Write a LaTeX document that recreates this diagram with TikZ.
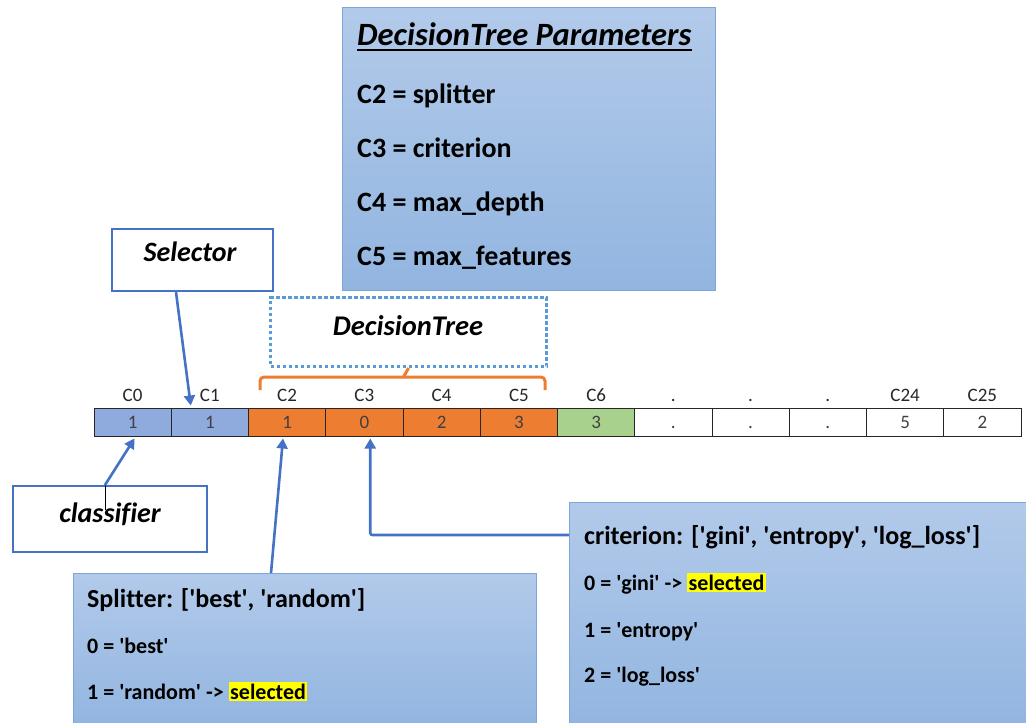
\documentclass[tikz,border=0pt]{standalone}
\usepackage{fontspec}
\setmainfont{Carlito}[Ligatures={TeXOff,NoCommon}]
\usetikzlibrary{arrows.meta,calc}

\definecolor{accblue}{HTML}{4472C4}
\definecolor{dotblue}{HTML}{5B9BD5}
\definecolor{panelline}{HTML}{7DA5DA}
\definecolor{paneltop}{HTML}{B2CAEA}
\definecolor{panelbot}{HTML}{92B5E0}
\definecolor{cellblue}{HTML}{8FAADC}
\definecolor{cellorange}{HTML}{ED7D31}
\definecolor{cellgreen}{HTML}{A9D18E}
\definecolor{cellwhite}{HTML}{FFFFFF}
\definecolor{celltext}{HTML}{404040}
\definecolor{hiyellow}{HTML}{FFFF00}

\newcommand\fsz[1]{\fontsize{#1}{#1}\selectfont}
\newcommand\hilite[1]{{\setlength{\fboxsep}{1.5pt}\colorbox{hiyellow}{#1}}}

\begin{document}
\begin{tikzpicture}[x=1pt,y=-1pt,
  panel/.style={draw=panelline, line width=1.2pt, top color=paneltop, bottom color=panelbot,
                shading angle=0, anchor=north west, inner sep=0pt},
  labelbox/.style={draw=accblue, line width=2.2pt, fill=white, anchor=north west, inner sep=0pt},
  cell/.style={draw=black!85, line width=1pt, minimum width=77.25pt, minimum height=28pt,
               inner sep=0pt, text height=12pt, text depth=0pt, text=celltext, font=\fsz{19}},
  collabel/.style={inner sep=0pt, anchor=base, text=black!85, font=\fsz{19}},
  txt/.style={inner sep=0pt, anchor=base west},
  arr/.style={draw=accblue, line width=2.6pt, -{Triangle[length=10pt,width=11pt]}},
  brace/.style={draw=cellorange, line width=3pt, rounded corners=4pt}
]
\useasboundingbox (0,0) rectangle (1026,723);

% parameter summary panel
\node[panel, minimum width=373pt, minimum height=283pt] (params) at (342,7) {};
\node[txt, font=\fsz{32.5}\bfseries\itshape] (ptitle) at (357,45) {DecisionTree Parameters};
\draw[line width=2pt] ($(ptitle.base west)+(0,5)$) -- ($(ptitle.base east)+(0,5)$);
\node[txt, font=\fsz{28}\bfseries] (p2) at (357,103) {C2 = splitter};
\node[txt, font=\fsz{28}\bfseries] (p3) at (357,157) {C3 = criterion};
\node[txt, font=\fsz{28}\bfseries] (p4) at (357,211) {C4 = max\_depth};
\node[txt, font=\fsz{28}\bfseries] (p5) at (357,265) {C5 = max\_features};

% selector label
\node[labelbox, minimum width=161pt, minimum height=62pt] (selector) at (111,228) {};
\node[inner sep=0pt, anchor=base, font=\fsz{28}\bfseries\itshape] (seltxt) at (190,261) {Selector};

% decision tree group label
\node[draw=dotblue, line width=3pt, dash pattern=on 3.5pt off 2.5pt, anchor=north west,
      minimum width=276pt, minimum height=69pt, inner sep=0pt] (dtree) at (269,296) {};
\node[inner sep=0pt, anchor=base, font=\fsz{28.5}\bfseries\itshape] (dttxt) at (408,335) {DecisionTree};

% brace over C2..C5
\coordinate (brl) at (260,390);
\coordinate (brr) at (545,390);
\draw[brace] (brl) -- (260,377) -- (545,377) -- (brr);
\draw[draw=cellorange, line width=3pt] (403,378) -- (dtree.south);

% chromosome cells
\foreach \i/\v/\f/\t in {0/1/cellblue/C0, 1/1/cellblue/C1, 2/1/cellorange/C2, 3/0/cellorange/C3,
                         4/2/cellorange/C4, 5/3/cellorange/C5, 6/3/cellgreen/C6, 7/./cellwhite/.,
                         8/./cellwhite/., 9/./cellwhite/., 10/5/cellwhite/C24, 11/2/cellwhite/C25} {
  \node[cell, fill=\f] (c\i) at ({94+77.25*\i+38.625},422) {\v};
  \node[collabel] (l\i) at ({94+77.25*\i+38.625},401) {\t};
}

% classifier label
\node[labelbox, minimum width=194pt, minimum height=66pt] (classifier) at (12,485) {};
\node[inner sep=0pt, anchor=base, font=\fsz{28}\bfseries\itshape] (cltxt) at (110,522) {classifier};
\draw[black, line width=0.7pt] ($(classifier.north west)+(93,0)$) -- ++(0,25);

% splitter panel
\node[panel, minimum width=463pt, minimum height=152pt] (splitter) at (73,573) {};
\node[txt, font=\fsz{26}\bfseries] (s0) at (87,607) {Splitter: ['best', 'random']};
\node[txt, font=\fsz{22}\bfseries] (s1) at (87,653) {0 = 'best'};
\node[txt, font=\fsz{22}\bfseries] (s2) at (87,699) {1 = 'random' -> \hilite{selected}};

% criterion panel
\node[panel, minimum width=458pt, minimum height=223pt] (criterion) at (569,502) {};
\node[txt, font=\fsz{26}\bfseries] (k0) at (584,544) {criterion: ['gini', 'entropy', 'log\_loss']};
\node[txt, font=\fsz{22}\bfseries] (k1) at (584,590) {0 = 'gini' -> \hilite{selected}};
\node[txt, font=\fsz{22}\bfseries] (k2) at (584,637) {1 = 'entropy'};
\node[txt, font=\fsz{22}\bfseries] (k3) at (584,682) {2 = 'log\_loss'};

% connectors
\draw[arr] ($(selector.south west)+(65,0)$) -- ($(c1.north west)+(20,-2)$);
\draw[arr] ($(classifier.north west)+(93,0)$) -- ($(c0.south west)+(41,2)$);
\draw[arr] ($(splitter.north west)+(198,0)$) -- ($(c2.south west)+(35,2)$);
\draw[arr, rounded corners=2pt] ($(criterion.north west)+(0,33)$) -| ($(c3.south west)+(45,2)$);
\end{tikzpicture}
\end{document}
